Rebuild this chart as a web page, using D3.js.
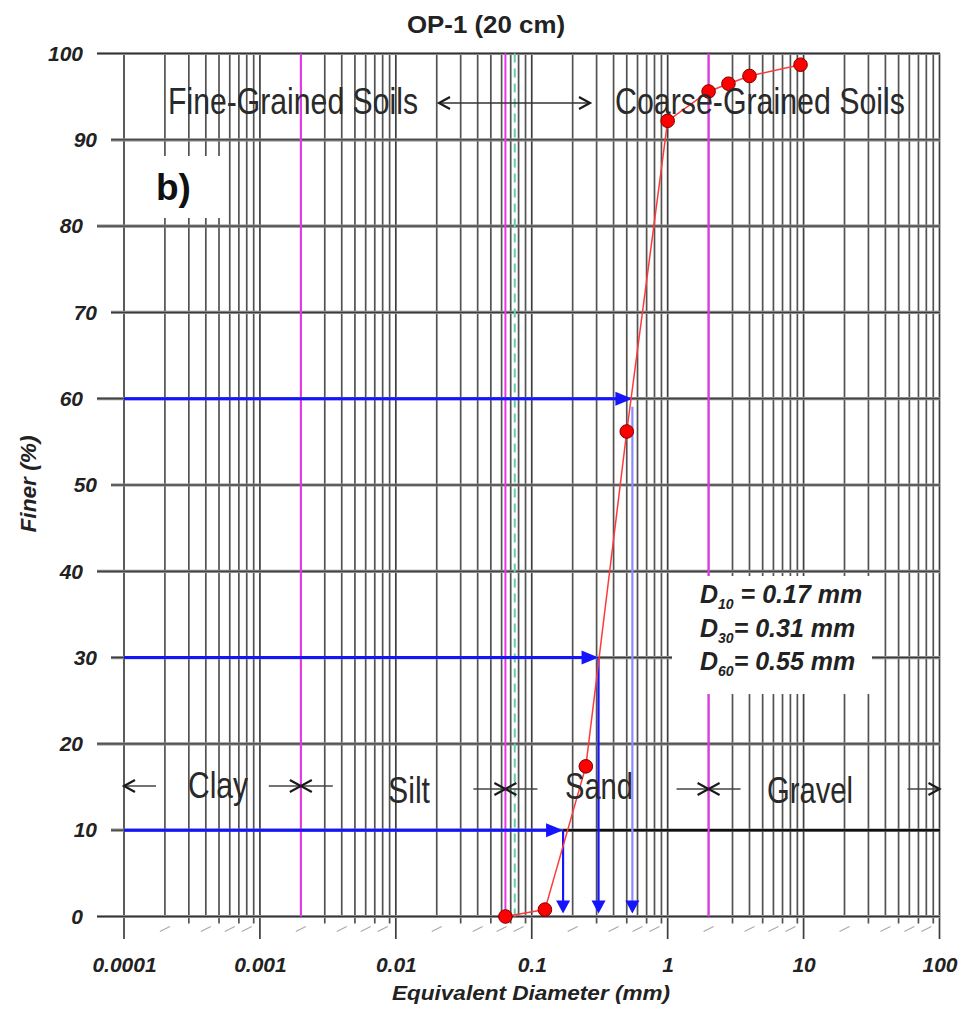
<!DOCTYPE html>
<html>
<head>
<meta charset="utf-8">
<script src="https://cdn.jsdelivr.net/npm/d3@7/dist/d3.min.js"></script>
<style>
  html, body { margin: 0; padding: 0; background: #fff; }
  svg { display: block; }
</style>
</head>
<body>
<svg id="chart" width="978" height="1009"></svg>
<script>
// Grain-size distribution, sample OP-1 (20 cm)
const sieveSizes = [0.064, 0.125, 0.25, 0.5, 1, 2, 2.8, 4, 9.5];      // mm
const percentFiner = [0, 0.8, 17.4, 56.2, 92.2, 95.6, 96.5, 97.4, 98.7]; // %

const dNames = ["10", "30", "60"];
const dPercents = [10, 30, 60];
const dSizes = [0.17, 0.31, 0.55];

const yTicks = [0, 10, 20, 30, 40, 50, 60, 70, 80, 90, 100];
const xDecades = [0.0001, 0.001, 0.01, 0.1, 1, 10, 100];
const xTickLabels = ["0.0001", "0.001", "0.01", "0.1", "1", "10", "100"];

const classBounds = [0.0001, 0.002, 0.064, 2, 100];   // clay | silt | sand | gravel
const classNames = ["Clay", "Silt", "Sand", "Gravel"];
const ucsSandBound = 0.075;

const svg = d3.select("#chart");
const x = d3.scaleLog().domain([1e-4, 100]).range([124, 939.5]);
const y = d3.scaleLinear().domain([0, 100]).range([916.5, 53.5]);

const numFont = "'Liberation Sans', Arial, sans-serif";
const narrowFont = "'Liberation Sans Narrow', 'Arial Narrow', 'Liberation Sans', sans-serif";

// minor + major vertical lines of the log grid
const gridX = [];
xDecades.slice(0, -1).forEach(d => { for (let m = 1; m <= 9; m++) gridX.push({ v: d * m, m }); });
gridX.push({ v: 100, m: 1 });

const grid = svg.append("g");
grid.selectAll("line.v").data(gridX).join("line")
  .attr("x1", d => x(d.v)).attr("x2", d => x(d.v))
  .attr("y1", y(100))
  .attr("y2", d => d.m === 1 ? 939 : (d.m % 2 ? y(0) + 7 : y(0) + 1))
  .attr("stroke", d => d.m === 1 ? "#222" : "#3a3a3a")
  .attr("stroke-opacity", 0.88)
  .attr("stroke-width", 1.7);

// little slashes under the even multiples
grid.selectAll("line.s").data(gridX.filter(d => d.m % 2 === 0)).join("line")
  .attr("x1", d => x(d.v) - 5).attr("x2", d => x(d.v) + 5)
  .attr("y1", y(0) + 15).attr("y2", y(0) + 10)
  .attr("stroke", "#aaa").attr("stroke-width", 1.2);

// horizontal grid
grid.selectAll("line.h").data(yTicks).join("line")
  .attr("x1", d => (d % 20 === 0 ? 97 : 111)).attr("x2", 940)
  .attr("y1", d => y(d)).attr("y2", d => y(d))
  .attr("stroke", "#8a8a8a").attr("stroke-width", 3.2);
grid.selectAll("line.hc").data(yTicks).join("line")
  .attr("x1", d => (d % 20 === 0 ? 97 : 111)).attr("x2", 940)
  .attr("y1", d => y(d)).attr("y2", d => y(d))
  .attr("stroke", "#333").attr("stroke-width", 1);

// 10 % line darkened to the right of D10
svg.append("line")
  .attr("x1", x(dSizes[0])).attr("x2", 940)
  .attr("y1", y(10)).attr("y2", y(10))
  .attr("stroke", "#111").attr("stroke-width", 2.6);

// class boundaries
svg.selectAll("line.mag").data([classBounds[1], classBounds[2], classBounds[3]]).join("line")
  .attr("x1", d => x(d)).attr("x2", d => x(d))
  .attr("y1", y(100)).attr("y2", y(0))
  .attr("stroke", "#ee33ee").attr("stroke-width", 2);
svg.append("line")
  .attr("x1", x(ucsSandBound)).attr("x2", x(ucsSandBound))
  .attr("y1", y(100)).attr("y2", y(0))
  .attr("stroke", "#66ccaa").attr("stroke-width", 2)
  .attr("stroke-dasharray", "9,6");

// white label panels
svg.append("rect").attr("x", 126).attr("y", 156).attr("width", 96).attr("height", 62).attr("fill", "#fff");
svg.append("rect").attr("x", 672).attr("y", 576).attr("width", 200).attr("height", 118).attr("fill", "#fff");

// D10 / D30 / D60 construction arrows
const blue = "#1414ff";
const dg = svg.append("g");
dSizes.forEach((s, i) => {
  const px = x(s), py = y(dPercents[i]);
  const col = i === 2 ? "#8c8cff" : blue;
  dg.append("line").attr("x1", x(1e-4)).attr("x2", px - 14).attr("y1", py).attr("y2", py)
    .attr("stroke", blue).attr("stroke-width", 3);
  dg.append("path").attr("d", `M${px},${py} L${px - 17},${py - 7} L${px - 17},${py + 7} Z`).attr("fill", blue);
  dg.append("line").attr("x1", px).attr("x2", px).attr("y1", py + (i === 2 ? 8 : 0)).attr("y2", y(0) - 12)
    .attr("stroke", col).attr("stroke-width", 2.2);
  dg.append("path").attr("d", `M${px},${y(0) - 3} L${px - 7},${y(0) - 16} L${px + 7},${y(0) - 16} Z`).attr("fill", blue);
});

// curve and points
const pts = sieveSizes.map((s, i) => [s, percentFiner[i]]);
svg.append("path").datum(pts)
  .attr("d", d3.line().x(d => x(d[0])).y(d => y(d[1])))
  .attr("fill", "none").attr("stroke", "#ff3a3a").attr("stroke-width", 1.5);
svg.selectAll("circle.pt").data(pts).join("circle")
  .attr("cx", d => x(d[0])).attr("cy", d => y(d[1])).attr("r", 6.8)
  .attr("fill", "#ff0000").attr("stroke", "#7a0000").attr("stroke-width", 1);

// axes labels
const yAxis = svg.append("g").call(d3.axisLeft(y).tickValues(yTicks).tickSize(0));
yAxis.select(".domain").remove();
yAxis.selectAll("text")
  .attr("x", d => (d % 20 === 0 ? 83 : 97))
  .attr("font-family", numFont).attr("font-size", 21)
  .attr("font-weight", "bold").attr("font-style", "italic").attr("fill", "#222");

const xAxis = svg.append("g").attr("transform", `translate(0,${y(0)})`)
  .call(d3.axisBottom(x).tickValues(xDecades).tickSize(0).tickFormat((d, i) => xTickLabels[i]));
xAxis.select(".domain").remove();
xAxis.selectAll("text")
  .attr("y", 41).attr("font-family", numFont).attr("font-size", 21)
  .attr("font-weight", "bold").attr("font-style", "italic").attr("fill", "#222");

svg.append("text").attr("x", 531).attr("y", 1000).attr("text-anchor", "middle")
  .attr("font-family", numFont).attr("font-size", 21).attr("font-weight", "bold").attr("font-style", "italic")
  .attr("fill", "#222").attr("textLength", 278).attr("lengthAdjust", "spacingAndGlyphs")
  .text("Equivalent Diameter (mm)");
svg.append("text").attr("transform", "translate(36,484) rotate(-90)").attr("text-anchor", "middle")
  .attr("font-family", numFont).attr("font-size", 22).attr("font-weight", "bold").attr("font-style", "italic")
  .attr("fill", "#222").attr("textLength", 97).attr("lengthAdjust", "spacingAndGlyphs").text("Finer (%)");

// title
svg.append("text").attr("x", 486).attr("y", 33).attr("text-anchor", "middle")
  .attr("font-family", numFont).attr("font-size", 24).attr("font-weight", "bold")
  .attr("fill", "#222").attr("textLength", 158).attr("lengthAdjust", "spacingAndGlyphs")
  .text("OP-1 (20 cm)");

// panel letter
svg.append("text").attr("x", 156).attr("y", 200)
  .attr("font-family", numFont).attr("font-size", 37).attr("font-weight", "bold").attr("fill", "#111")
  .text("b)");

// soil group headings
const headG = svg.append("g").attr("font-family", narrowFont).attr("font-size", 37).attr("fill", "#2a2a2a");
headG.append("text").attr("x", 168).attr("y", 114).attr("textLength", 250).attr("lengthAdjust", "spacingAndGlyphs").text("Fine-Grained Soils");
headG.append("text").attr("x", 615).attr("y", 114).attr("textLength", 290).attr("lengthAdjust", "spacingAndGlyphs").text("Coarse-Grained Soils");

// open-headed arrow helpers
function chevron(g, tx, ty, dir) {
  g.append("path").attr("d", `M${tx - dir * 11},${ty - 6} L${tx},${ty} L${tx - dir * 11},${ty + 6}`)
    .attr("fill", "none").attr("stroke", "#1a1a1a").attr("stroke-width", 2.2);
}
const arr = svg.append("g");
arr.append("line").attr("x1", 439).attr("x2", 590).attr("y1", 103).attr("y2", 103).attr("stroke", "#333").attr("stroke-width", 1.4);
chevron(arr, 439, 103, -1);
chevron(arr, 590, 103, 1);

// class labels with boundary arrows
const classY = [798, 803, 799, 803];
const classX = [188, 388, 565, 767];
const classW = [60, 42, 68, 86];
classNames.forEach((n, i) => {
  headG.append("text").attr("x", classX[i]).attr("y", classY[i])
    .attr("textLength", classW[i]).attr("lengthAdjust", "spacingAndGlyphs").text(n);
});
classBounds.forEach((b, i) => {
  const bx = x(b);
  const ay = i < 2 ? 786 : 789;
  if (i > 0) {
    arr.append("line").attr("x1", bx - 32).attr("x2", bx).attr("y1", ay).attr("y2", ay).attr("stroke", "#444").attr("stroke-width", 1.5);
    chevron(arr, bx, ay, 1);
  }
  if (i < classBounds.length - 1) {
    arr.append("line").attr("x1", bx).attr("x2", bx + 32).attr("y1", ay).attr("y2", ay).attr("stroke", "#444").attr("stroke-width", 1.5);
    chevron(arr, bx, ay, -1);
  }
});

// characteristic diameters
const dText = svg.append("g").attr("font-family", numFont).attr("font-weight", "bold")
  .attr("font-style", "italic").attr("fill", "#222");
const dBase = [603, 637, 670];
dNames.forEach((n, i) => {
  const t = dText.append("text").attr("x", 700).attr("y", dBase[i]).attr("font-size", 25);
  t.append("tspan").text("D");
  t.append("tspan").attr("font-size", 14).attr("dy", 6).text(n);
  t.append("tspan").attr("dy", -6).text((i === 0 ? " = " : "= ") + dSizes[i].toFixed(2) + " mm");
});
</script>
</body>
</html>
